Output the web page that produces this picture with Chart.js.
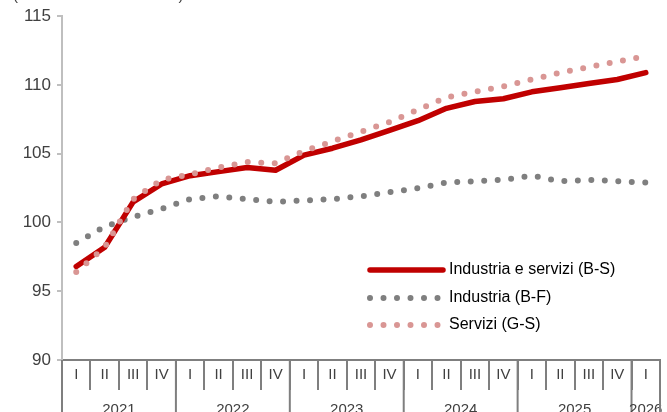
<!DOCTYPE html>
<html>
<head>
<meta charset="utf-8">
<script src="https://cdn.jsdelivr.net/npm/chart.js@4.4.1/dist/chart.umd.min.js"></script>
<style>
  html, body { margin: 0; padding: 0; background: #ffffff; }
  #wrap { width: 667px; height: 412px; position: relative; }
</style>
</head>
<body>
<div id="wrap"><canvas id="js-chart-indici"></canvas></div>
<script>
// quarters 2021 Q1 - 2026 Q1
const quarters = ["I", "II", "III", "IV", "I", "II", "III", "IV", "I", "II", "III", "IV",
                  "I", "II", "III", "IV", "I", "II", "III", "IV", "I"];
const years = ["2021", "2022", "2023", "2024", "2025", "2026"];
const quartersPerYear = [4, 4, 4, 4, 4, 1];
const yTicks = [90, 95, 100, 105, 110, 115];

const industriaServizi = [96.8, 98.2, 101.5, 102.8, 103.4, 103.7, 104.0, 103.8, 104.9, 105.4, 106.0,
                          106.7, 107.4, 108.3, 108.8, 109.0, 109.5, 109.8, 110.1, 110.4, 110.9];
const industria = [98.5, 99.7, 100.4, 101.0, 101.7, 101.9, 101.7, 101.5, 101.6, 101.7, 101.9,
                   102.2, 102.5, 102.9, 103.0, 103.1, 103.4, 103.0, 103.1, 103.0, 102.9];
const servizi = [96.4, 98.2, 101.7, 103.1, 103.5, 104.0, 104.4, 104.3, 105.2, 105.9, 106.6,
                 107.3, 108.2, 109.1, 109.5, 109.9, 110.4, 110.9, 111.3, 111.7, 112.1];

const FONT = '"Liberation Sans", Arial, sans-serif';
const TEXT = "#404040";

// title, legend and year row drawn on top of the chart
const extrasPlugin = {
    id: "extras",
    afterDraw(chart) {
        const ctx = chart.ctx;
        const x = chart.scales.x;
        const area = chart.chartArea;
        ctx.save();

        // title (cut off at the top, as in the original)
        ctx.fillStyle = TEXT;
        ctx.font = "15px " + FONT;
        ctx.textAlign = "left";
        ctx.textBaseline = "alphabetic";
        ctx.fillText("(numeri indice 2021=100)", 13, 0);

        // year separators + labels
        const half = (x.getPixelForValue(1) - x.getPixelForValue(0)) / 2;
        ctx.strokeStyle = "#7f7f7f";
        ctx.lineWidth = 2;
        let idx = 0;
        ctx.font = "15px " + FONT;
        ctx.textAlign = "center";
        ctx.textBaseline = "middle";
        years.forEach((yr, k) => {
            const left = x.getPixelForValue(idx) - half;
            const right = x.getPixelForValue(idx + quartersPerYear[k] - 1) + half;
            ctx.beginPath();
            ctx.moveTo(left, area.bottom);
            ctx.lineTo(left, chart.height);
            ctx.stroke();
            ctx.fillText(yr, (left + right) / 2, 410);
            idx += quartersPerYear[k];
            if (k === years.length - 1) {
                ctx.beginPath();
                ctx.moveTo(right, area.bottom);
                ctx.lineTo(right, chart.height);
                ctx.stroke();
            }
        });

        // legend
        const lx0 = 370, lx1 = 443, tx = 449;
        const rows = [270, 298, 325];
        chart.data.datasets.forEach((ds, i) => {
            const y = rows[i];
            ctx.beginPath();
            ctx.strokeStyle = ds.borderColor;
            ctx.lineWidth = ds.borderWidth;
            ctx.lineCap = "round";
            ctx.setLineDash(ds.borderDash || []);
            ctx.moveTo(lx0, y);
            ctx.lineTo(lx1, y);
            ctx.stroke();
            ctx.setLineDash([]);
            ctx.fillStyle = "#000000";
            ctx.font = "16px " + FONT;
            ctx.textAlign = "left";
            ctx.textBaseline = "middle";
            ctx.fillText(ds.label, tx, y);
        });
        ctx.restore();
    }
};

document.addEventListener("DOMContentLoaded", function() {
    const element = document.getElementById("js-chart-indici");
    new Chart(element, {
        type: "line",
        data: {
            labels: quarters,
            datasets: [
                {
                    label: "Industria e servizi (B-S)",
                    data: industriaServizi,
                    borderColor: "#c00000",
                    borderWidth: 5.5,
                    borderCapStyle: "round",
                    borderJoinStyle: "round",
                    pointRadius: 0,
                    order: 2
                },
                {
                    label: "Industria (B-F)",
                    data: industria,
                    borderColor: "#7f7f7f",
                    borderWidth: 6,
                    borderDash: [0, 13.5],
                    borderCapStyle: "round",
                    pointRadius: 0,
                    order: 3
                },
                {
                    label: "Servizi (G-S)",
                    data: servizi,
                    borderColor: "#d99694",
                    borderWidth: 6,
                    borderDash: [0, 13.5],
                    borderCapStyle: "round",
                    pointRadius: 0,
                    order: 1
                }
            ]
        },
        options: {
            responsive: true,
            maintainAspectRatio: false,
            animation: false,
            layout: { padding: { top: 16, right: 7, left: 0, bottom: 0 } },
            scales: {
                x: {
                    type: "category",
                    offset: true,
                    afterFit: (scale) => { scale.height = 52; },
                    border: { color: "#7f7f7f", width: 2 },
                    grid: {
                        offset: true,
                        drawOnChartArea: false,
                        drawTicks: true,
                        tickLength: 30,
                        color: "#7f7f7f",
                        lineWidth: 2
                    },
                    ticks: {
                        color: TEXT,
                        font: { family: FONT, size: 15 },
                        padding: -24,
                        maxRotation: 0,
                        autoSkip: false
                    }
                },
                y: {
                    min: 90,
                    max: 115,
                    afterFit: (scale) => { scale.width = 62; },
                    afterBuildTicks: (scale) => { scale.ticks = yTicks.map(v => ({ value: v })); },
                    border: { color: "#bfbfbf", width: 2 },
                    grid: {
                        drawOnChartArea: false,
                        drawTicks: true,
                        tickLength: 5,
                        color: "#bfbfbf",
                        lineWidth: 2
                    },
                    ticks: {
                        color: TEXT,
                        font: { family: FONT, size: 17 },
                        padding: 6
                    }
                }
            },
            plugins: {
                legend: { display: false },
                tooltip: { enabled: false }
            }
        },
        plugins: [extrasPlugin]
    });
});
</script>
</body>
</html>
